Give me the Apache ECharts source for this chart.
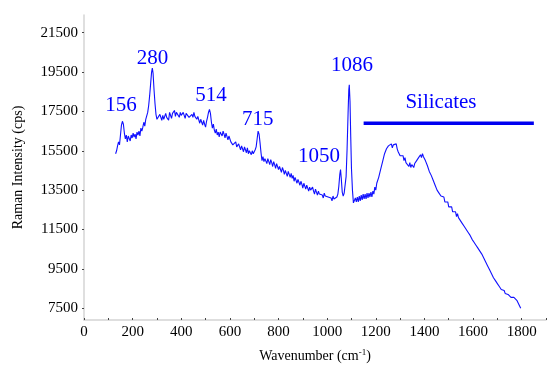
<!DOCTYPE html>
<html>
<head>
<meta charset="utf-8">
<script src="https://cdn.jsdelivr.net/npm/echarts@6/dist/echarts.min.js"></script>
<style>
html,body{margin:0;padding:0;background:#fff;}
#chart{width:547px;height:368px;}
</style>
</head>
<body>
<div id="chart"></div>
<script>
// Raman spectrum: wavenumber (cm-1)
const wavenumbers = [
130,134,138,142,146,150,154,158,162,166,
170,174,178,182,186,190,194,198,202,206,
210,214,218,222,226,230,234,238,242,246,
250,254,258,262,266,270,274,278,281,284,
288,292,296,300,304,308,312,316,320,324,
328,332,336,340,344,348,352,356,360,364,
368,372,376,380,384,388,392,396,400,404,
408,412,416,420,424,428,432,436,440,444,
448,452,456,460,464,468,472,476,480,484,
488,492,496,500,504,508,512,516,520,524,
528,532,536,540,544,548,552,556,560,564,
568,572,576,580,584,588,592,596,600,604,
608,612,616,620,624,628,632,636,640,644,
648,652,656,660,664,668,672,676,680,684,
688,692,696,700,704,708,712,716,720,724,
728,732,736,740,744,748,752,756,760,764,
768,772,776,780,784,788,792,796,800,804,
808,812,816,820,824,828,832,836,840,844,
848,852,856,860,864,868,872,876,880,884,
888,892,896,900,904,908,912,916,920,924,
928,932,936,940,944,948,952,956,960,964,
968,972,976,980,984,988,992,996,1000,1004,
1008,1012,1016,1020,1024,1028,1032,1036,1040,1044,
1048,1052,1055,1058,1062,1066,1070,1074,1078,1082,
1086,1089,1091,1094,1097,1100,1104,1108,1112,1116,
1120,1124,1128,1132,1136,1140,1144,1148,1152,1156,
1160,1164,1168,1172,1176,1180,1184,1188,1192,1196,
1200,1204,1208,1212,1216,1220,1224,1228,1232,1236,
1240,1244,1248,1252,1256,1260,1264,1268,1272,1276,
1280,1284,1288,1292,1296,1300,1304,1308,1312,1316,
1320,1324,1328,1332,1336,1340,1344,1348,1352,1356,
1360,1364,1368,1372,1376,1380,1384,1388,1392,1396,
1400,1404,1408,1412,1416,1420,1424,1428,1432,1436,
1440,1444,1448,1452,1456,1460,1464,1468,1472,1476,
1480,1484,1488,1492,1496,1500,1504,1508,1512,1516,
1520,1524,1528,1532,1536,1540,1544,1548,1552,1556,
1560,1564,1568,1572,1576,1580,1584,1588,1592,1596,
1600,1604,1608,1612,1616,1620,1624,1628,1632,1636,
1640,1644,1648,1652,1656,1660,1664,1668,1672,1676,
1680,1684,1688,1692,1696,1700,1704,1708,1712,1716,
1720,1724,1728,1732,1736,1740,1744,1748,1752,1756,
1760,1764,1768,1772,1776,1780,1784,1788,1792,1796];
// Raman intensity (cps)
const intensities = [
15350,15500,15750,15950,15800,16300,16800,17000,16850,16400,
16100,16300,15950,16250,16200,16000,16300,16150,16400,16200,
16350,16100,16450,16300,16500,16250,16650,16500,16700,16950,
16750,17100,17200,17450,17800,18300,18900,19500,19700,19450,
18600,17900,17350,17100,17200,17050,17350,17250,17050,17300,
17100,17150,17400,17200,17300,17050,17450,17350,17150,17400,
17300,17550,17250,17450,17350,17500,17200,17450,17300,17250,
17450,17350,17150,17400,17300,17450,17200,17300,17100,17350,
17200,17450,17250,17350,17100,17250,17150,16900,17100,16950,
16800,17050,16850,16700,17000,17200,17450,17600,17400,16950,
16650,16850,16550,16400,16600,16300,16450,16200,16450,16350,
16250,16500,16350,16150,16400,16300,16050,16250,16150,15950,
16050,15800,15900,15700,15950,15700,15600,15850,15700,15550,
15750,15650,15450,15700,15550,15400,15650,15350,15500,15450,
15300,15500,15350,15300,15550,15700,16100,16500,16350,15900,
15400,15000,15200,14950,15100,15150,14850,15100,15000,14800,
15050,14900,14700,14950,14800,14600,14850,14750,14550,14700,
14550,14400,14650,14500,14300,14500,14400,14200,14450,14300,
14150,14350,14100,14250,13950,14150,14050,13850,14050,13900,
13750,13950,13800,13600,13850,13700,13550,13750,13600,13450,
13650,13500,13400,13650,13450,13300,13550,13400,13250,13450,
13300,13200,13400,13250,13100,13350,13200,13100,13300,13150,
13050,13250,13100,12950,13200,13050,13150,12950,13150,13300,
13700,14300,14550,14100,13400,13200,13350,13450,14200,15600,
17400,18600,18850,18000,16200,14600,13500,12850,12750,13100,
12900,13150,12900,13200,12950,13250,13000,13300,13050,13300,
13050,13350,13100,13350,13150,13400,13150,13450,13300,13650,
13500,13850,13850,14150,14200,14550,14650,14950,15000,15350,
15450,15600,15500,15750,15650,15700,15850,15650,15800,15900,
15750,15850,15600,15450,15500,15250,15350,15150,15250,15000,
15150,14900,15000,14850,14700,14900,14650,14800,14700,14650,
14850,14750,15000,14950,15150,15050,15300,15150,15350,15200,
15300,15000,14950,14750,14700,14450,14500,14250,14150,14000,
13900,13750,13800,13500,13550,13350,13450,13200,13250,13100,
13150,12900,13000,12850,12900,12650,12750,12550,12650,12400,
12500,12350,12400,12150,12300,12100,12150,11950,12000,11800,
11850,11650,11700,11500,11550,11350,11400,11200,11250,11000,
11100,10850,10900,10700,10750,10550,10600,10400,10400,10250,
10250,10050,10050,9850,9850,9650,9650,9450,9450,9250,
9250,9050,9050,8900,8900,8750,8750,8600,8600,8450,
8500,8350,8400,8250,8300,8200,8200,8100,8150,8050,
8100,8000,8050,7950,8000,7900,7850,7700,7650,7500];

// Peak annotations: label, anchor wavenumber, anchor intensity
const peakLabels = ['156','280','514','715','1050','1086','Silicates'];
const peakLabelX = [152,282,522,715,966,1102,1468];
const peakLabelY = [17800,20200,18300,17100,15200,19850,17950];

// Silicates band bar
const bandX = [1150,1850];
const bandY = [16900,16900];

// Axis ticks
const yTickLabels = [7500,9500,11500,13500,15500,17500,19500,21500];
const xTickLabels = [0,200,400,600,800,1000,1200,1400,1600,1800];
const xTickMarks = [0,100,200,300,400,500,600,700,800,900,1000,1100,1200,1300,1400,1500,1600,1700,1800,1900];

const spectrum = wavenumbers.map((w,i)=>[w,intensities[i]]);
const annotations = peakLabels.map((t,i)=>({name:t,value:[peakLabelX[i],peakLabelY[i]]}));
const band = bandX.map((x,i)=>[x,bandY[i]]);

const serif = "'Liberation Serif','Times New Roman',serif";
const chart = echarts.init(document.getElementById('chart'));
chart.setOption({
  animation:false,
  backgroundColor:'#ffffff',
  grid:{left:84,right:1,top:15,bottom:43,containLabel:false},
  xAxis:{
    type:'value',min:0,max:1900,
    name:'{a|Wavenumber (cm}{s|-1}{a|)}',
    nameLocation:'middle',nameGap:28,
    nameTextStyle:{rich:{a:{fontFamily:serif,fontSize:14,color:'#000'},s:{fontFamily:serif,fontSize:9,color:'#000',verticalAlign:'top',padding:[0,0,7,0]}}},
    axisLine:{show:true,lineStyle:{color:'#d4d4d4',width:1.5}},
    axisTick:{show:true,inside:true,length:2,customValues:xTickMarks,lineStyle:{color:'#444',width:1}},
    axisLabel:{customValues:xTickLabels,formatter:v=>String(v),fontFamily:serif,fontSize:15,color:'#000',margin:5},
    splitLine:{show:false}
  },
  yAxis:{
    type:'value',min:6900,max:22400,
    name:'Raman Intensity (cps)',
    nameLocation:'middle',nameGap:59,
    nameTextStyle:{fontFamily:serif,fontSize:14,color:'#000'},
    axisLine:{show:true,lineStyle:{color:'#d4d4d4',width:1.5}},
    axisTick:{show:true,length:2,customValues:yTickLabels,lineStyle:{color:'#444',width:1}},
    axisLabel:{customValues:yTickLabels,formatter:v=>String(v),fontFamily:serif,fontSize:15,color:'#000',margin:6},
    splitLine:{show:false}
  },
  series:[
    {type:'line',data:spectrum,showSymbol:false,symbol:'none',lineStyle:{color:'#1010ff',width:1.1},z:3},
    {type:'line',data:band,showSymbol:false,symbol:'none',lineStyle:{color:'#0000f0',width:3.5},z:2},
    {type:'scatter',data:annotations,symbolSize:0,itemStyle:{color:'rgba(0,0,0,0)'},
     label:{show:true,position:'inside',formatter:'{b}',fontFamily:serif,fontSize:21,color:'#0000ff',opacity:1},z:4}
  ]
});
</script>
</body>
</html>
